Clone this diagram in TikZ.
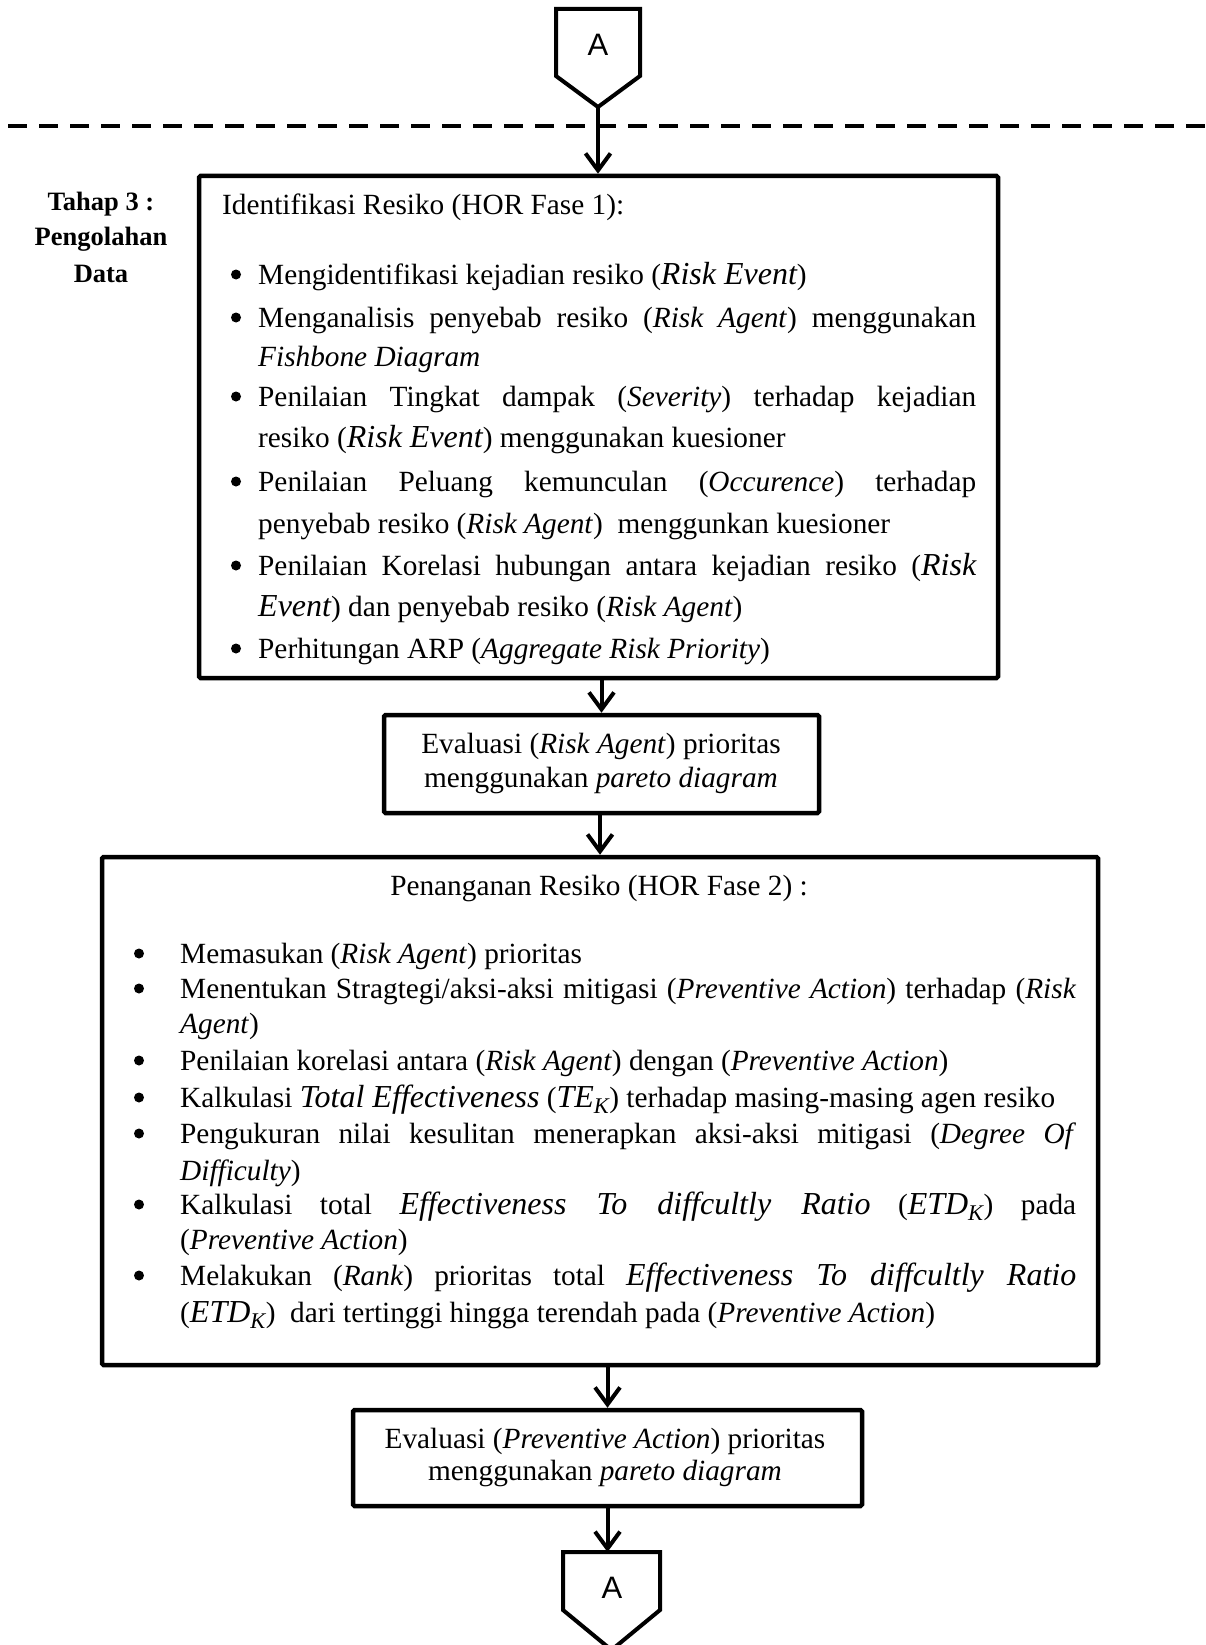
\documentclass[tikz,border=0pt]{standalone}
\usepackage{fontspec}
\setmainfont{Liberation Serif}
\newfontfamily\arialfont{Liberation Sans}
\usetikzlibrary{arrows.meta}
\newcommand\bodyfont{\fontsize{29.3}{33.5}\selectfont}
\newcommand\labfont{\fontsize{26.5}{35}\selectfont\bfseries}
\newcommand\camb[1]{{\fontsize{32}{33.5}\selectfont\itshape #1}}
\newcommand\jl[2]{\makebox[#1][s]{#2}}
\newcommand\txl[4]{\node[txt] (#1) at (#2,#3) {#4};}
\newcommand\bul[3]{\node[bulletdot] (#1) at (#2,#3-9.5) {};}
\begin{document}
\begin{tikzpicture}[x=1pt,y=-1pt,
  txt/.style={inner sep=0pt, anchor=base west, font=\bodyfont},
  lab/.style={inner sep=0pt, anchor=base, font=\labfont},
  bulletdot/.style={circle, fill=black, inner sep=0pt, minimum size=10pt},
  flowbox/.style={draw, line width=4.5pt, rounded corners=1.5pt, inner sep=0pt},
  arr/.style={line width=4pt, -{Straight Barb[length=17pt,width=25pt]}},
  conn/.style={draw, line width=4pt},
  ltr/.style={inner sep=0pt, font=\arialfont\fontsize{31}{31}\selectfont}]
\useasboundingbox (0,0) rectangle (1205,1645);
\clip (0,0) rectangle (1205,1645);

% top connector A
\draw[conn] (556,9) -- (640,9) -- (640,76) -- (598,107) -- (556,76) -- cycle;
\node[ltr] (topA) at (598,45) {A};
\coordinate (topAtip) at (598,107);

% dashed separator
\coordinate (dashL) at (8,126);
\coordinate (dashR) at (1205,126);
\draw[line width=4pt, dash pattern=on 19pt off 12pt] (dashL) -- (dashR);

% label
\node[lab] (tahapA) at (101,211) {Tahap 3 :};
\node[lab] (tahapB) at (101,246) {Pengolahan};
\node[lab] (tahapC) at (101,282) {Data};

% boxes
\node[flowbox, minimum width=799pt, minimum height=502pt] (box1) at (598.5,427) {};
\node[flowbox, minimum width=435pt, minimum height=98pt] (box2) at (601.5,764) {};
\node[flowbox, minimum width=996pt, minimum height=508pt] (box3) at (600,1111) {};
\node[flowbox, minimum width=509pt, minimum height=96pt] (box4) at (607.5,1458) {};

% box 1 text
\txl{ta}{222}{215}{Identifikasi Resiko (HOR Fase 1):}
\bul{ba1}{236}{284}
\txl{la1}{258}{284}{Mengidentifikasi kejadian resiko (\camb{Risk Event})}
\bul{ba2}{236}{327}
\txl{la2}{258}{327}{\jl{718pt}{Menganalisis penyebab resiko (\textit{Risk Agent}) menggunakan}}
\txl{la3}{258}{366}{\textit{Fishbone Diagram}}
\bul{ba4}{236}{406}
\txl{la4}{258}{406}{\jl{718pt}{Penilaian Tingkat dampak (\textit{Severity}) terhadap kejadian}}
\txl{la5}{258}{447}{resiko (\camb{Risk Event}) menggunakan kuesioner}
\bul{ba6}{236}{491}
\txl{la6}{258}{491}{\jl{718pt}{Penilaian Peluang kemunculan (\textit{Occurence}) terhadap}}
\txl{la7}{258}{533}{penyebab resiko (\textit{Risk Agent})\ \ menggunkan kuesioner}
\bul{ba8}{236}{575}
\txl{la8}{258}{575}{\jl{718pt}{Penilaian Korelasi hubungan antara kejadian resiko (\camb{Risk}}}
\txl{la9}{258}{616}{\camb{Event}) dan penyebab resiko (\textit{Risk Agent})}
\bul{ba10}{236}{658}
\txl{la10}{258}{658}{Perhitungan ARP (\textit{Aggregate Risk Priority})}

% box 2 text
\node[txt,anchor=base] (ea1) at (601,753) {Evaluasi (\textit{Risk Agent}) prioritas};
\node[txt,anchor=base] (ea2) at (601,787) {menggunakan \textit{pareto diagram}};

% box 3 text
\node[txt,anchor=base] (tb) at (599,895) {Penanganan Resiko (HOR Fase 2) :};
\bul{bb1}{139}{963}
\txl{lb1}{180}{963}{Memasukan (\textit{Risk Agent}) prioritas}
\bul{bb2}{139}{998}
\txl{lb2}{180}{998}{\jl{896pt}{Menentukan Stragtegi/aksi-aksi mitigasi (\textit{Preventive Action}) terhadap (\textit{Risk}}}
\txl{lb3}{180}{1033}{\textit{Agent})}
\bul{bb4}{139}{1070}
\txl{lb4}{180}{1070}{Penilaian korelasi antara (\textit{Risk Agent}) dengan (\textit{Preventive Action})}
\bul{bb5}{139}{1107}
\txl{lb5}{180}{1107}{Kalkulasi \camb{Total Effectiveness} (\camb{TE\textsubscript{K}}) terhadap masing-masing agen resiko}
\bul{bb6}{139}{1143}
\txl{lb6}{180}{1143}{\jl{896pt}{Pengukuran nilai kesulitan menerapkan aksi-aksi mitigasi (\textit{Degree Of}}}
\txl{lb7}{180}{1180}{\textit{Difficulty})}
\bul{bb8}{139}{1214}
\txl{lb8}{180}{1214}{\jl{896pt}{Kalkulasi total \camb{Effectiveness To diffcultly Ratio} (\camb{ETD\textsubscript{K}}) pada}}
\txl{lb9}{180}{1249}{(\textit{Preventive Action})}
\bul{bb10}{139}{1285}
\txl{lb10}{180}{1285}{\jl{896pt}{Melakukan (\textit{Rank}) prioritas total \camb{Effectiveness To diffcultly Ratio}}}
\txl{lb11}{180}{1322}{(\camb{ETD\textsubscript{K}})\ \ dari tertinggi hingga terendah pada (\textit{Preventive Action})}

% box 4 text
\node[txt,anchor=base] (ec1) at (605,1448) {Evaluasi (\textit{Preventive Action}) prioritas};
\node[txt,anchor=base] (ec2) at (605,1480) {menggunakan \textit{pareto diagram}};

% bottom connector A
\draw[conn] (563,1552) -- (660,1552) -- (660,1610) -- (611.5,1650) -- (563,1610) -- cycle;
\node[ltr] (botA) at (612,1588) {A};
\coordinate (botAtop) at (611.5,1552);

% arrows
\draw[arr] (topAtip) -- (topAtip |- box1.north);
\draw[arr] (box2.north |- box1.south) -- (box2.north);
\draw[arr] (box3.north |- box2.south) -- (box3.north);
\draw[arr] (box4.north |- box3.south) -- (box4.north);
\draw[arr] (box4.south) -- (box4.south |- botAtop);
\end{tikzpicture}
\end{document}
